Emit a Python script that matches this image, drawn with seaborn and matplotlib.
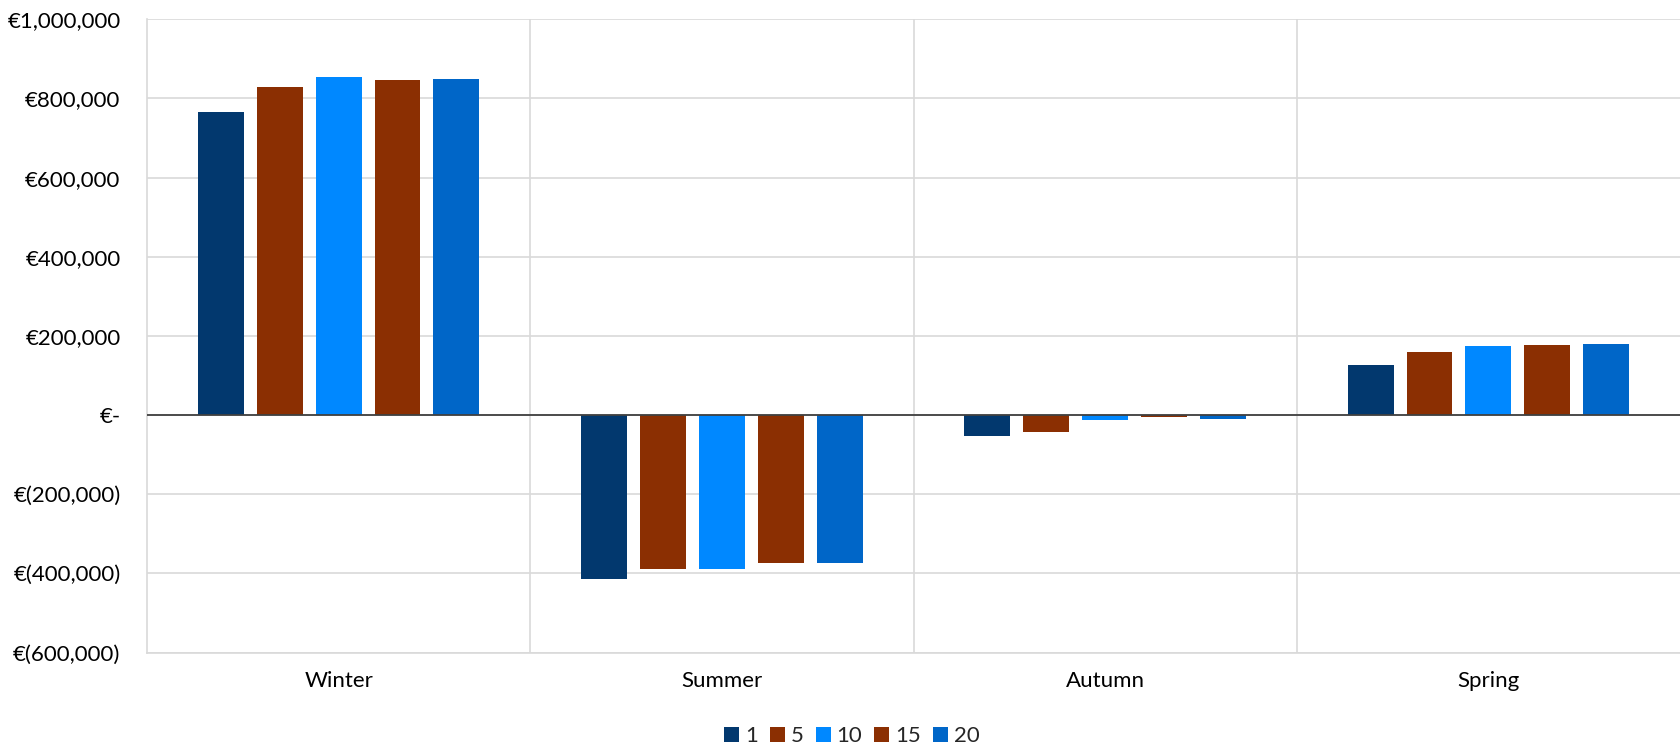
import matplotlib

matplotlib.use("Agg")
import matplotlib.pyplot as plt
import matplotlib.ticker as mticker
import pandas as pd
import seaborn as sns

seasons = ["Winter", "Summer", "Autumn", "Spring"]
series = ["1", "5", "10", "15", "20"]
values_1 = [765000, -415000, -53000, 127000]
values_5 = [830000, -389000, -42000, 160000]
values_10 = [855000, -389000, -12000, 175000]
values_15 = [846000, -373000, -4000, 178000]
values_20 = [849000, -373000, -9000, 180000]
colours = ["#02386E", "#8B2F02", "#0088FF", "#8B2F02", "#0066C8"]

sns.set_theme(style="white")
plt.rcParams["font.family"] = ["Lato", "DejaVu Sans"]

rows = []
for name, vals in zip(series, [values_1, values_5, values_10, values_15, values_20]):
    for season, v in zip(seasons, vals):
        rows.append({"season": season, "series": name, "value": v})
df = pd.DataFrame(rows)


def euro(v, _pos):
    if abs(v) < 1:
        return "€-"
    if v < 0:
        return f"€({abs(v):,.0f})"
    return f"€{v:,.0f}"


fig = plt.figure(figsize=(16.8, 7.48), dpi=100)
ax = fig.add_axes([147 / 1680, 1 - 652.5 / 748, 1 - 147 / 1680, (652.5 - 19.3) / 748])

sns.barplot(data=df, x="season", y="value", hue="series", order=seasons,
            hue_order=series, palette=dict(zip(series, colours)),
            saturation=1, width=0.768, gap=0.22, linewidth=0, errorbar=None, ax=ax)

ax.set_xlim(-0.5, 3.5)
ax.set_ylim(-600000, 1000000)
ax.yaxis.set_major_locator(mticker.MultipleLocator(200000))
ax.yaxis.set_major_formatter(mticker.FuncFormatter(euro))
ax.set_xticks(range(len(seasons)))
ax.set_xticks([0.5, 1.5, 2.5], minor=True)
ax.grid(axis="y", which="major", color="#D9D9D9", lw=1.2)
ax.grid(axis="x", which="minor", color="#D9D9D9", lw=1.2)
ax.set_axisbelow(True)
ax.axhline(0, color="#404040", lw=1.3, zorder=3)

for side in ["top", "right"]:
    ax.spines[side].set_visible(False)
for side in ["left", "bottom"]:
    ax.spines[side].set_color("#D9D9D9")
    ax.spines[side].set_linewidth(1.2)

ax.tick_params(axis="both", length=0, labelsize=16, colors="#000000")
ax.tick_params(axis="y", pad=19)
ax.tick_params(axis="x", pad=13)
ax.set_xlabel("")
ax.set_ylabel("")

handles, labels = ax.get_legend_handles_labels()
ax.legend_.remove()
fig.legend(handles, labels, loc="center", bbox_to_anchor=(0.507, 1 - 736 / 748),
           ncol=5, frameon=False, fontsize=16, handlelength=0.68,
           handleheight=0.68, handletextpad=0.25, columnspacing=0.55)

fig.savefig("out.png", dpi=100)
